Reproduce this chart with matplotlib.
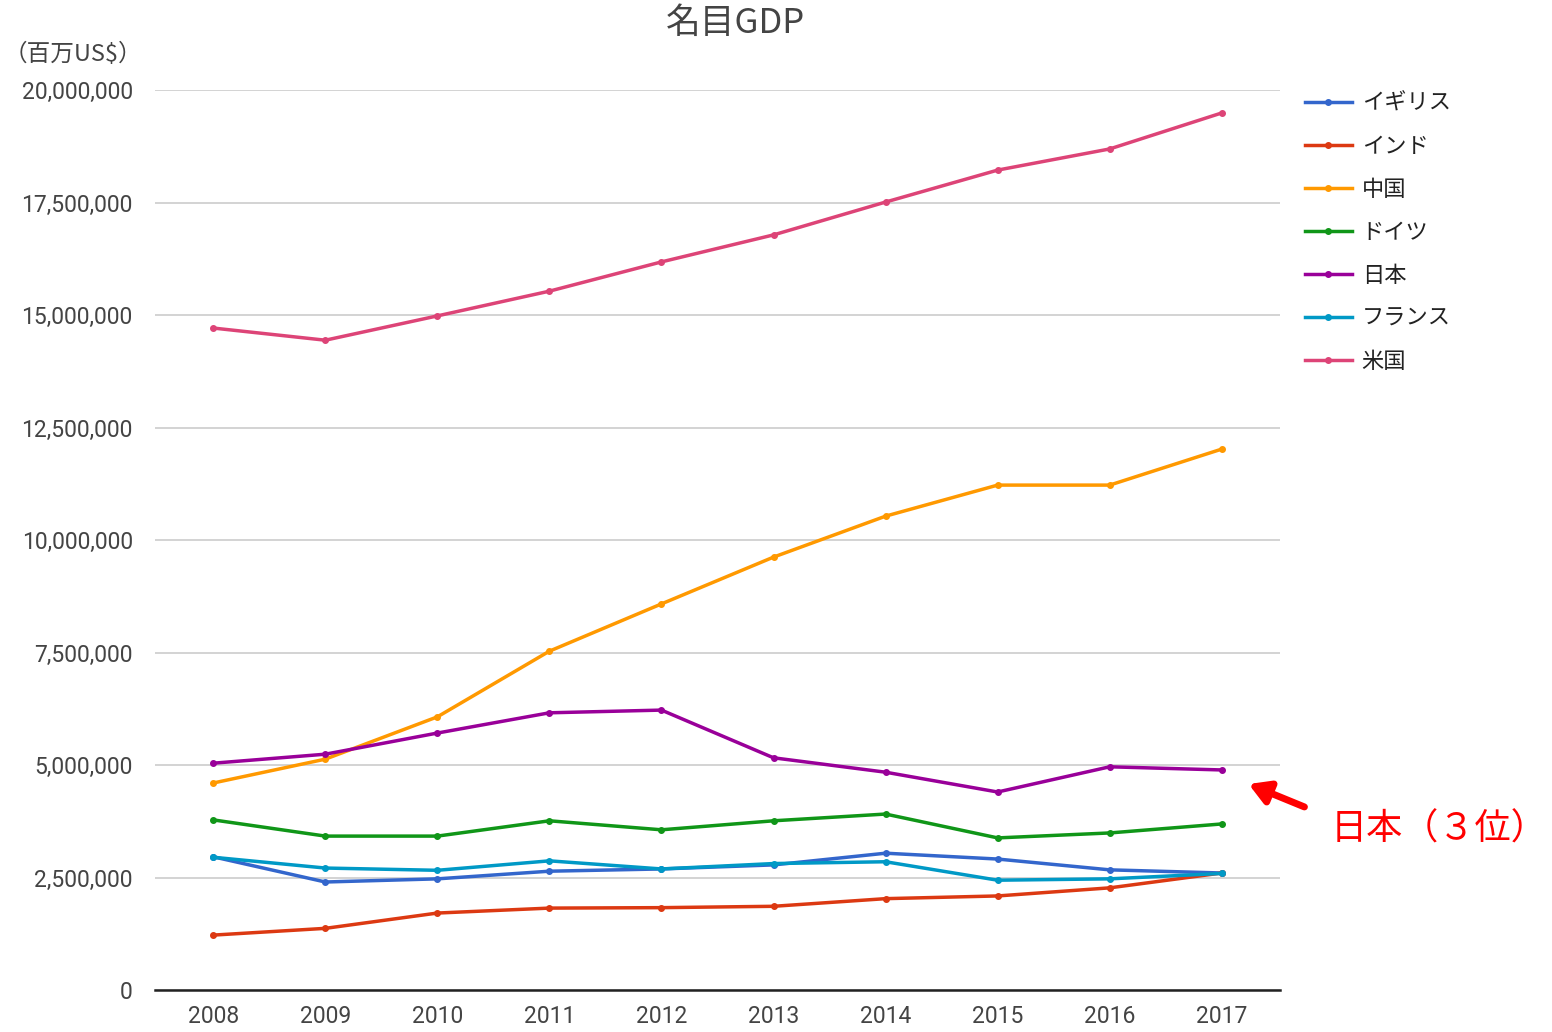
import matplotlib
matplotlib.use("Agg")
import matplotlib.pyplot as plt
from matplotlib.ticker import FuncFormatter

plt.rcParams['font.family'] = ['Noto Sans CJK JP', 'DejaVu Sans']

# nominal GDP, trillions of US$ (axis is in millions)
years = [2008, 2009, 2010, 2011, 2012, 2013, 2014, 2015, 2016, 2017]
uk = [2.96, 2.40, 2.47, 2.64, 2.69, 2.78, 3.04, 2.91, 2.67, 2.60]
india = [1.22, 1.37, 1.71, 1.82, 1.83, 1.86, 2.03, 2.09, 2.27, 2.60]
china = [4.60, 5.13, 6.07, 7.53, 8.58, 9.62, 10.53, 11.22, 11.22, 12.02]
germany = [3.78, 3.42, 3.42, 3.76, 3.56, 3.76, 3.91, 3.38, 3.49, 3.69]
japan = [5.04, 5.24, 5.71, 6.16, 6.22, 5.16, 4.84, 4.40, 4.96, 4.89]
france = [2.95, 2.71, 2.66, 2.87, 2.69, 2.81, 2.85, 2.44, 2.47, 2.59]
usa = [14.71, 14.44, 14.98, 15.53, 16.18, 16.78, 17.51, 18.22, 18.69, 19.49]

names = ['イギリス', 'インド', '中国', 'ドイツ', '日本', 'フランス', '米国']
series = [uk, india, china, germany, japan, france, usa]
colors = ['#3366cc', '#dc3912', '#ff9900', '#109618', '#990099', '#0099c6', '#dd4477']

yticks = [0, 2.5, 5, 7.5, 10, 12.5, 15, 17.5, 20]

fig = plt.figure(figsize=(15.52, 10.32), dpi=100)
ax = fig.add_axes([155 / 1552, 1 - 990 / 1032, 1125 / 1552, 900 / 1032])

for name, vals, c in zip(names, series, colors):
    ax.plot(years, vals, color=c, lw=2.5, marker='o', ms=4, label=name)

ax.set_xlim(2007.48, 2017.52)
ax.set_ylim(0, 20)
ax.set_xticks(years)
ax.set_yticks(yticks)
ax.yaxis.set_major_formatter(FuncFormatter(lambda v, p: f"{int(round(v * 1e6)):,}"))
ax.grid(axis='y', color='#cccccc', lw=1.2)
ax.set_axisbelow(True)
for s in ['top', 'right', 'left']:
    ax.spines[s].set_visible(False)
ax.spines['bottom'].set_color('#222222')
ax.spines['bottom'].set_linewidth(1.8)
ax.tick_params(length=0, colors='#444444')
ax.tick_params(axis='y', pad=16)
ax.tick_params(axis='x', pad=11)
for lab in ax.get_xticklabels() + ax.get_yticklabels():
    lab.set_family(['Roboto', 'DejaVu Sans'])
    lab.set_fontsize(16.5)

leg = ax.legend(loc='upper left', bbox_to_anchor=(1150 / 1125, 1.0 - 2 / 900), frameon=False,
                fontsize=16, handlelength=2.1, handletextpad=0.45, labelspacing=0.9,
                borderaxespad=0, borderpad=0)
for t in leg.get_texts():
    t.set_color('#222222')

fig.text(735 / 1552, 1 - 23 / 1032, '名目GDP', ha='center', va='center',
         fontsize=25, color='#444444')
fig.text(4 / 1552, 1 - 54 / 1032, '（百万US$）', ha='left', va='center',
         fontsize=17, color='#444444')

# callout for Japan
ax.annotate('', xy=(1246 / 1552, 1 - 783 / 1032), xycoords='figure fraction',
            xytext=(1307 / 1552, 1 - 808 / 1032), textcoords='figure fraction',
            arrowprops=dict(arrowstyle='-|>,head_length=1.2,head_width=0.7',
                            color='red', lw=5), annotation_clip=False)
fig.text(1331 / 1552, 1 - 830 / 1032, '日本（３位）', ha='left', va='center',
         fontsize=26, color='red')

fig.savefig('out.png', dpi=100)
